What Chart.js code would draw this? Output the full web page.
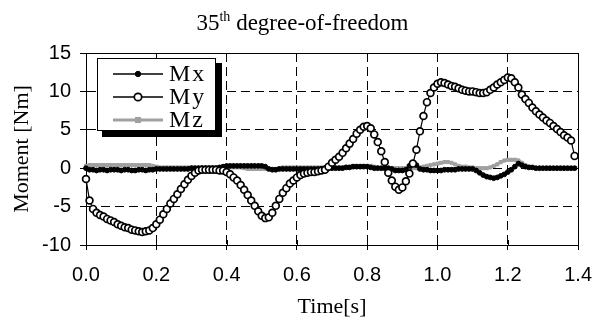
<!DOCTYPE html>
<html>
<head>
<meta charset="utf-8">
<script src="https://cdn.jsdelivr.net/npm/chart.js@4/dist/chart.umd.min.js"></script>
<style>
  html, body { margin: 0; padding: 0; background: #fff; }
  #wrap { position: relative; width: 605px; height: 320px; }
  #myChart { position: absolute; left: 0; top: 0; }
  #title {
    position: absolute; left: 0; top: 10px; width: 605px; text-align: center;
    font-family: 'Liberation Serif', 'Times New Roman', serif; font-size: 23px; line-height: 26px; color: #000;
  }
  #title sup { font-size: 14px; vertical-align: 9px; line-height: 0; }
  .shade { position: absolute; background: #000; }
</style>
</head>
<body>
<div id="wrap">
  <canvas id="myChart" width="605" height="320"></canvas>
  <div id="title">35<sup>th</sup> degree-of-freedom</div>
  <!-- legend drop shadow -->
  <div class="shade" style="left:102px; top:131px; width:120px; height:6px;"></div>
  <div class="shade" style="left:216px; top:63px; width:6px; height:74px;"></div>
</div>
<script>
// sampling: one value every 0.01 s starting at 0
var T0 = 0, DT = 0.01;
var xTicks = ['0.0', '0.2', '0.4', '0.6', '0.8', '1.0', '1.2', '1.4'];
var yTicks = [-10, -5, 0, 5, 10, 15];
var seriesNames = ['Mx', 'My', 'Mz'];

var mx = [
    0.0, -0.2, -0.2, -0.3, -0.2, -0.2, -0.3, -0.2, -0.2, -0.2,
    -0.3, -0.2, -0.2, -0.3, -0.3, -0.2, -0.2, -0.3, -0.2, -0.2,
    -0.1, -0.1, -0.1, -0.1, -0.1, -0.1, -0.1, -0.1, -0.1, -0.1,
    0.0, 0.0, 0.0, 0.0, 0.0, 0.0, 0.0, 0.0, 0.1, 0.2,
    0.3, 0.3, 0.3, 0.3, 0.3, 0.3, 0.3, 0.3, 0.3, 0.3,
    0.3, 0.2, -0.1, -0.2, -0.2, -0.1, -0.1, -0.1, -0.1, -0.1,
    -0.1, -0.1, -0.1, -0.1, -0.1, -0.1, -0.1, -0.1, 0.0, 0.0,
    0.0, 0.0, 0.0, 0.0, 0.1, 0.1, 0.2, 0.2, 0.2, 0.2,
    0.2, 0.1, 0.0, 0.0, 0.0, 0.0, 0.0, -0.1, -0.3, -0.3,
    -0.3, -0.2, 0.3, 0.6, 0.4, -0.1, -0.2, -0.2, -0.3, -0.3,
    -0.3, -0.3, -0.2, -0.2, -0.2, -0.2, -0.1, -0.1, -0.1, -0.1,
    -0.1, -0.3, -0.6, -0.9, -1.1, -1.2, -1.3, -1.2, -1.0, -0.8,
    -0.5, -0.2, 0.2, 0.6, 0.4, 0.2, 0.1, 0.1, 0.0, 0.0,
    0.0, 0.0, 0.0, 0.0, 0.0, 0.0, 0.0, 0.0, 0.0, 0.0
];
var my = [
    -1.4, -4.2, -5.3, -5.8, -6.1, -6.3, -6.6, -6.8, -7.0, -7.3,
    -7.5, -7.7, -7.8, -8.0, -8.1, -8.2, -8.3, -8.2, -8.1, -7.8,
    -7.3, -6.7, -6.0, -5.3, -4.6, -4.0, -3.4, -2.7, -2.1, -1.5,
    -1.0, -0.6, -0.3, -0.2, -0.2, -0.2, -0.2, -0.2, -0.3, -0.3,
    -0.5, -0.8, -1.2, -1.6, -2.2, -2.8, -3.5, -4.2, -4.9, -5.6,
    -6.2, -6.5, -6.4, -5.8, -4.9, -4.0, -3.2, -2.6, -2.0, -1.6,
    -1.2, -0.9, -0.7, -0.6, -0.5, -0.5, -0.4, -0.3, -0.2, 0.2,
    0.7, 1.1, 1.5, 2.0, 2.6, 3.2, 3.8, 4.5, 5.0, 5.4,
    5.5, 5.2, 4.4, 3.4, 2.2, 0.8, -0.6, -1.6, -2.4, -2.8,
    -2.5, -1.7, -0.7, 0.6, 2.4, 4.8, 6.8, 8.6, 9.8, 10.5,
    11.0, 11.2, 11.1, 10.9, 10.7, 10.6, 10.4, 10.2, 10.1, 10.0,
    10.0, 9.9, 9.8, 9.8, 9.9, 10.2, 10.5, 10.9, 11.2, 11.5,
    11.8, 11.7, 11.2, 10.5, 9.6, 9.0, 8.5, 7.9, 7.4, 7.0,
    6.6, 6.2, 5.9, 5.5, 5.1, 4.7, 4.3, 4.0, 3.6, 1.6
];
var mz = [
    0.3, 0.4, 0.4, 0.4, 0.4, 0.4, 0.4, 0.4, 0.4, 0.4,
    0.4, 0.4, 0.4, 0.4, 0.4, 0.4, 0.4, 0.4, 0.4, 0.3,
    0.2, 0.1, 0.1, 0.1, 0.1, 0.1, 0.1, 0.1, 0.1, 0.1,
    0.1, 0.1, 0.1, 0.1, 0.1, 0.1, 0.1, 0.1, 0.1, 0.1,
    0.1, 0.1, 0.1, 0.1, 0.1, 0.0, -0.1, -0.1, -0.1, -0.1,
    -0.1, -0.1, -0.1, -0.1, -0.1, 0.0, 0.1, 0.1, 0.1, 0.1,
    0.1, 0.1, 0.1, 0.1, 0.1, 0.1, 0.1, 0.1, 0.1, 0.1,
    0.1, 0.1, 0.1, 0.1, 0.2, 0.2, 0.3, 0.3, 0.3, 0.3,
    0.3, 0.3, 0.2, 0.1, 0.0, 0.0, 0.0, 0.0, 0.0, 0.0,
    0.0, 0.0, 0.0, 0.0, 0.0, 0.1, 0.2, 0.3, 0.4, 0.5,
    0.6, 0.7, 0.8, 0.8, 0.7, 0.5, 0.3, 0.2, 0.2, 0.1,
    0.1, 0.0, 0.0, 0.0, 0.0, 0.1, 0.3, 0.5, 0.8, 1.0,
    1.1, 1.1, 1.1, 1.0, 0.7, 0.4, 0.2, 0.1, 0.0, 0.0,
    0.0, 0.0, 0.0, 0.0, 0.0, 0.0, 0.0, 0.0, 0.0, 0.0
];

var grey = '#a0a0a0';
var serif = "'Liberation Serif', 'Times New Roman', serif";
var sans = "'Liberation Sans', Arial, sans-serif";

function toPoints(values) {
    return values.map(function (v, i) {
        return { x: T0 + i * DT, y: v };
    });
}

// solid frame round the plot area
var framePlugin = {
    id: 'frame',
    beforeDatasetsDraw: function (chart) {
        var a = chart.chartArea, ctx = chart.ctx;
        ctx.save();
        ctx.strokeStyle = '#000';
        ctx.lineWidth = 1;
        ctx.setLineDash([]);
        ctx.strokeRect(Math.round(a.left) + 0.5, Math.round(a.top) + 0.5,
            Math.round(a.right - a.left), Math.round(a.bottom - a.top));
        // x ticks poke inside the frame too
        var xs = chart.scales.x;
        ctx.beginPath();
        xs.ticks.forEach(function (t) {
            var px = Math.round(xs.getPixelForValue(t.value)) + 0.5;
            ctx.moveTo(px, a.bottom);
            ctx.lineTo(px, a.bottom - 5);
        });
        ctx.stroke();
        ctx.restore();
    }
};

// boxed legend drawn over the plot
var boxLegend = {
    id: 'boxLegend',
    afterDraw: function (chart) {
        var c = chart.ctx;
        var bx = 97, by = 58, bw = 118, bh = 72;
        c.save();
        c.setLineDash([]);
        c.fillStyle = '#ffffff';
        c.fillRect(bx, by, bw, bh);

        var rows = [74, 97, 120];
        [0, 1, 2].forEach(function (k, i) {
            var ds = chart.data.datasets[k];
            var y = rows[i];
            c.strokeStyle = ds.borderColor;
            c.lineWidth = k === 2 ? 3 : 1.5;
            c.beginPath();
            c.moveTo(113, y);
            c.lineTo(163, y);
            c.stroke();
            if (ds.pointStyle === 'rect') {
                c.fillStyle = ds.pointBackgroundColor;
                c.fillRect(135, y - 3, 6, 6);
            } else {
                c.beginPath();
                c.arc(138, y, ds.pointRadius + 0.3, 0, Math.PI * 2);
                c.fillStyle = ds.pointBackgroundColor;
                c.fill();
                c.lineWidth = ds.pointBorderWidth;
                c.strokeStyle = ds.pointBorderColor;
                c.stroke();
            }
            c.fillStyle = '#000';
            c.font = '24px ' + serif;
            c.textBaseline = 'middle';
            c.textAlign = 'left';
            c.fillText(ds.label.split('').join('\u200A'), 169, y + 1);
        });

        c.strokeStyle = '#000';
        c.lineWidth = 1;
        c.strokeRect(bx + 0.5, by + 0.5, bw, bh);
        c.restore();
    }
};

var ctx = document.getElementById('myChart').getContext('2d');
var myChart = new Chart(ctx, {
    type: 'line',
    data: {
        datasets: [{
            label: seriesNames[0],
            data: toPoints(mx),
            borderColor: '#000',
            borderWidth: 1.8,
            pointRadius: 2.4,
            pointBackgroundColor: '#000',
            pointBorderColor: '#000',
            pointBorderWidth: 1,
            pointStyle: 'circle',
            order: 1
        }, {
            label: seriesNames[1],
            data: toPoints(my),
            borderColor: '#000',
            borderWidth: 1.2,
            pointRadius: 3.4,
            pointBackgroundColor: '#fff',
            pointBorderColor: '#000',
            pointBorderWidth: 1.7,
            pointStyle: 'circle',
            order: 0
        }, {
            label: seriesNames[2],
            data: toPoints(mz),
            borderColor: grey,
            borderWidth: 3,
            pointRadius: 2.2,
            pointBackgroundColor: grey,
            pointBorderColor: grey,
            pointBorderWidth: 1,
            pointStyle: 'rect',
            order: 2
        }]
    },
    options: {
        responsive: false,
        animation: false,
        events: [],
        clip: false,
        layout: { padding: { top: 53, right: 17, left: 0, bottom: 0 } },
        elements: { line: { tension: 0 } },
        plugins: {
            legend: { display: false },
            tooltip: { enabled: false }
        },
        scales: {
            x: {
                type: 'linear',
                min: 0,
                max: 1.4,
                afterFit: function (s) { s.height = 75; },
                afterBuildTicks: function (s) {
                    s.ticks = xTicks.map(function (t) { return { value: parseFloat(t) }; });
                },
                ticks: {
                    color: '#000',
                    font: { family: sans, size: 20 },
                    padding: 13,
                    maxRotation: 0,
                    callback: function (v) { return v.toFixed(1); }
                },
                grid: {
                    color: function (g) {
                        return (g.tick.value === 0 || g.tick.value === 1.4) ? 'rgba(0,0,0,0)' : '#000';
                    },
                    lineWidth: 1,
                    tickColor: '#000',
                    tickLength: 5
                },
                border: { color: '#000', width: 1, dash: [9, 5] },
                title: {
                    display: true,
                    text: 'Time[s]',
                    color: '#000',
                    font: { family: serif, size: 22 },
                    padding: { top: 0, bottom: 0 }
                }
            },
            y: {
                min: -10,
                max: 15,
                afterFit: function (s) { s.width = 86; },
                afterBuildTicks: function (s) {
                    s.ticks = yTicks.map(function (t) { return { value: t }; });
                },
                ticks: {
                    color: '#000',
                    font: { family: sans, size: 20 },
                    padding: 9
                },
                grid: {
                    color: function (g) {
                        return (g.tick.value === -10 || g.tick.value === 15) ? 'rgba(0,0,0,0)' : '#000';
                    },
                    lineWidth: 1,
                    tickColor: '#000',
                    tickLength: 6
                },
                border: { color: '#000', width: 1, dash: [9, 5] },
                title: {
                    display: true,
                    text: 'Moment [Nm]',
                    color: '#000',
                    font: { family: serif, size: 22 },
                    padding: { top: 9, bottom: 0 }
                }
            }
        }
    },
    plugins: [framePlugin, boxLegend]
});
</script>
</body>
</html>
